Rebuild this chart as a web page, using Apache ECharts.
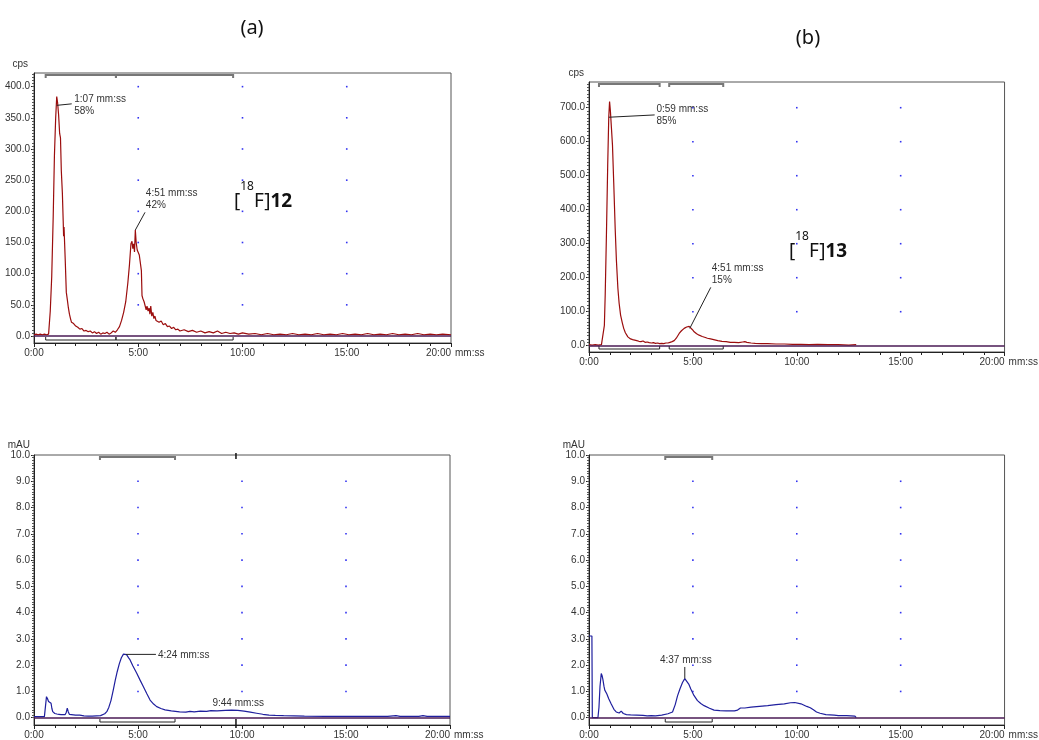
<!DOCTYPE html>
<html>
<head>
<meta charset="utf-8">
<script src="https://cdn.jsdelivr.net/npm/echarts@6/dist/echarts.min.js"></script>
<style>
  html, body { margin: 0; padding: 0; background: #fff; }
  #main { width: 1039px; height: 740px; }
</style>
</head>
<body>
<div id="main"></div>
<script>
// ---- data (time in minutes) ----
// radio trace, [18F]12
const radioA = [[0,2],[0.1,3],[0.2,2],[0.3,3],[0.4,2],[0.5,3],[0.6,2],[0.7,3],
  [0.78,40],[0.85,95],[0.92,190],[0.98,290],[1.04,350],[1.09,384],[1.13,375],[1.18,355],[1.23,325],[1.27,318],
  [1.31,265],[1.36,230],[1.4,185],[1.42,160],[1.44,175],[1.47,172],[1.5,120],[1.55,70],[1.6,58],[1.65,45],
  [1.7,35],[1.75,28],[1.8,22],[1.85,24],[1.9,20],[1.95,21],[2.0,16],[2.1,14],[2.2,11],[2.3,12],[2.4,8],[2.5,9],
  [2.6,7],[2.7,8],[2.8,5],[2.9,7],[3.0,4],[3.1,6],[3.2,3],[3.3,5],[3.4,4],[3.5,6],[3.6,3],[3.7,5],[3.8,8],[3.9,6],
  [4.0,10],[4.1,15],[4.2,25],[4.3,38],[4.4,55],[4.5,85],[4.58,115],[4.65,148],[4.7,152],[4.74,140],[4.78,148],
  [4.82,135],[4.86,170],[4.9,150],[4.95,138],[5.0,140],[5.05,130],[5.1,128],[5.15,105],[5.18,65],[5.22,60],
  [5.28,55],[5.33,52],[5.38,42],[5.42,48],[5.47,40],[5.52,45],[5.56,35],[5.6,48],[5.65,32],[5.7,38],[5.75,28],
  [5.8,32],[5.85,25],[5.9,28],[6.0,22],[6.1,24],[6.2,18],[6.3,20],[6.4,15],[6.5,16],[6.6,12],[6.7,14],[6.8,10],
  [6.9,11],[7.0,8],[7.2,10],[7.4,7],[7.6,9],[7.8,6],[8.0,8],[8.2,5],[8.4,7],[8.6,5],[8.8,8],[9.0,4],[9.2,6],
  [9.4,4],[9.6,5],[9.8,3],[10.0,5],[10.3,3],[10.6,4],[10.9,2],[11.2,4],[11.5,2],[11.8,3],[12.1,2],[12.4,4],
  [12.7,2],[13.0,3],[13.3,2],[13.6,4],[13.9,2],[14.2,3],[14.5,2],[14.8,4],[15.1,2],[15.4,3],[15.7,2],[16.0,4],
  [16.3,2],[16.6,3],[16.9,2],[17.2,4],[17.5,2],[17.8,3],[18.1,2],[18.4,4],[18.7,2],[19.0,3],[19.3,2],[19.6,3],[20,2]]

// radio trace, [18F]13
const radioB = [[0,3],[0.15,2],[0.3,3],[0.45,2],[0.6,3],[0.68,5],[0.74,60],[0.78,150],[0.84,330],[0.9,530],
  [0.95,670],[0.99,718],[1.03,690],[1.08,640],[1.13,590],[1.19,480],[1.26,345],[1.32,250],[1.39,169],[1.45,125],
  [1.52,90],[1.6,68],[1.67,51],[1.75,38],[1.87,26],[1.95,30],[2.0,20],[2.1,18],[2.19,17],[2.3,15],[2.4,13],
  [2.5,12],[2.6,14],[2.7,10],[2.8,11],[2.9,9],[3.0,8],[3.1,9],[3.2,7],[3.3,8],[3.4,6],[3.5,7],[3.6,6],[3.7,8],
  [3.8,8],[3.9,10],[4.0,12],[4.1,15],[4.2,22],[4.34,36],[4.45,44],[4.58,51],[4.7,55],[4.82,57],[4.9,52],
  [4.98,47],[5.06,41],[5.18,35],[5.3,31],[5.45,27],[5.6,24],[5.7,22],[5.85,20],[6.0,18],[6.2,15],[6.4,13],
  [6.6,12],[6.8,10],[7.0,10],[7.2,9],[7.4,11],[7.5,12],[7.6,10],[7.8,8],[8.0,7],[8.3,6],[8.6,6],[9.0,5],
  [9.4,5],[9.8,4],[10.2,4],[10.6,3],[11.0,4],[11.5,3],[12.0,3],[12.5,2],[12.86,3]]

// UV trace under (a)
const uvA = [[0,0.04],[0.5,0.04],[0.55,0.05],[0.6,0.8],[0.65,0.72],[0.7,0.62],[0.75,0.6],[0.82,0.55],[0.86,0.35],
  [0.9,0.23],[1.0,0.16],[1.1,0.14],[1.2,0.13],[1.3,0.12],[1.4,0.12],[1.5,0.12],[1.55,0.2],[1.6,0.36],[1.65,0.22],
  [1.7,0.13],[1.8,0.12],[2.0,0.1],[2.2,0.1],[2.4,0.07],[2.6,0.06],[2.8,0.06],[3.0,0.07],[3.2,0.08],[3.4,0.15],
  [3.5,0.23],[3.6,0.4],[3.7,0.65],[3.81,1.05],[3.9,1.4],[4.0,1.75],[4.1,2.05],[4.2,2.28],[4.3,2.42],[4.38,2.45],
  [4.45,2.4],[4.55,2.28],[4.62,2.2],[4.75,1.98],[4.94,1.69],[5.1,1.43],[5.26,1.18],[5.42,0.92],[5.58,0.67],
  [5.75,0.52],[5.9,0.42],[6.1,0.35],[6.3,0.3],[6.6,0.26],[7.0,0.22],[7.3,0.21],[7.5,0.24],[7.7,0.22],[8.0,0.25],
  [8.3,0.24],[8.5,0.27],[8.8,0.26],[9.2,0.28],[9.5,0.29],[9.8,0.28],[10.1,0.25],[10.4,0.21],[10.7,0.17],
  [11.0,0.13],[11.3,0.1],[11.6,0.09],[12.0,0.08],[12.5,0.07],[13,0.06],[14,0.05],[15,0.05],[16,0.05],[17,0.05],
  [17.4,0.08],[17.6,0.05],[18.5,0.05],[18.7,0.08],[18.9,0.05],[20,0.05]]

// UV trace under (b)
const uvB = [[0,3.11],[0.14,3.11],[0.16,0.0],[0.43,0.0],[0.48,0.4],[0.53,1.2],[0.59,1.68],[0.63,1.6],[0.67,1.45],
  [0.72,1.2],[0.76,1.05],[0.8,1.04],[0.86,0.9],[0.95,0.72],[1.07,0.52],[1.2,0.32],[1.31,0.22],[1.45,0.18],
  [1.55,0.25],[1.65,0.16],[1.8,0.12],[2.0,0.11],[2.3,0.1],[2.6,0.09],[2.8,0.07],[3.0,0.08],[3.2,0.07],[3.5,0.1],
  [3.8,0.15],[4.02,0.22],[4.15,0.5],[4.26,0.83],[4.38,1.1],[4.5,1.34],[4.61,1.49],[4.7,1.45],[4.8,1.28],
  [4.9,1.09],[5.05,0.85],[5.22,0.65],[5.38,0.54],[5.54,0.46],[5.8,0.36],[6.02,0.29],[6.3,0.27],[6.6,0.26],
  [7.0,0.26],[7.15,0.29],[7.29,0.37],[7.5,0.37],[7.8,0.4],[8.2,0.43],[8.6,0.46],[9.0,0.5],[9.4,0.53],[9.7,0.57],
  [9.9,0.58],[10.2,0.53],[10.48,0.43],[10.65,0.38],[10.8,0.3],[10.95,0.22],[11.12,0.17],[11.4,0.12],[11.8,0.1],
  [12.0,0.08],[12.4,0.08],[12.8,0.06],[12.86,0.0]]

// tick labels
const timeTicks = [0, 5, 10, 15, 20]
const dotTimes = [5, 10, 15]
const cpsTicksA = [0, 50, 100, 150, 200, 250, 300, 350, 400]
const cpsTicksB = [0, 100, 200, 300, 400, 500, 600, 700]
const mauTicks = [0, 1, 2, 3, 4, 5, 6, 7, 8, 9, 10]

// integration regions [start, end] and single peak marks
const regionsA = [[0.56, 3.93], [3.93, 9.55]]
const regionsB = [[0.48, 3.4], [3.86, 6.46]]
const regionsUvA = [[3.17, 6.78]]
const regionsUvB = [[3.67, 5.93]]
const marksUvA = [9.71]

// peak annotations [time, value, text]
const notesA = [[1.09, 370, '1:07 mm:ss\n58%'], [4.86, 170, '4:51 mm:ss\n42%']]
const notesB = [[0.96, 672, '0:59 mm:ss\n85%'], [4.85, 51, '4:51 mm:ss\n15%']]
const notesUvA = [[4.42, 2.41, '4:24 mm:ss'], [9.73, 0.28, '9:44 mm:ss']]
const notesUvB = [[4.61, 1.49, '4:37 mm:ss']]

const FONT = 'Liberation Sans'
const INK = '#333'

let myChart = echarts.init(document.getElementById('main'))

// panel layout
const panels = [
  { grid: { left: 34, top: 73, width: 417, height: 270 }, min: -11.2, max: 421.9, ticks: cpsTicksA, minor: 5,
    unit: 'cps', unitPad: 6, data: radioA, color: '#9b0d0d', regions: regionsA, marks: [] },
  { grid: { left: 589, top: 82, width: 418, height: 270 }, min: -18.5, max: 775.6, ticks: cpsTicksB, minor: 10,
    unit: 'cps', unitPad: 5, data: radioB, color: '#9b0d0d', regions: regionsB, marks: [] },
  { grid: { left: 34, top: 455, width: 416, height: 270 }, min: -0.278, max: 10, ticks: mauTicks, minor: 0.1,
    unit: 'mAU', unitPad: 4, data: uvA, color: '#1f1f9e', regions: regionsUvA, marks: marksUvA },
  { grid: { left: 589, top: 455, width: 418, height: 271 }, min: -0.277, max: 10, ticks: mauTicks, minor: 0.1,
    unit: 'mAU', unitPad: 4, data: uvB, color: '#1f1f9e', regions: regionsUvB, marks: [] }
]

function minorValues(p) {
  let out = []
  let n = Math.floor(p.max / p.minor)
  for (let k = 0; k <= n; k++) out.push(+(k * p.minor).toFixed(3))
  return out
}

let grids = [], xAxes = [], yAxes = [], series = [], traceIndex = []

panels.forEach((p, i) => {
  grids.push(Object.assign({ show: true, borderColor: '#555', borderWidth: 1, backgroundColor: 'transparent' }, p.grid))

  xAxes.push({
    type: 'value', gridIndex: i, min: 0, max: 20, interval: 5,
    name: 'mm:ss', nameLocation: 'end', nameGap: 4,
    nameTextStyle: { fontFamily: FONT, fontSize: 10, color: INK, align: 'left', verticalAlign: 'top', padding: [5, 0, 0, 0] },
    axisLine: { onZero: false, lineStyle: { color: '#222', width: 1 } },
    axisTick: { length: 4, lineStyle: { color: '#222' } },
    minorTick: { show: true, splitNumber: 5, length: 3, lineStyle: { color: '#222' } },
    axisLabel: { formatter: v => v + ':00', fontFamily: FONT, fontSize: 10, color: INK, margin: 5, alignMaxLabel: 'right' },
    splitLine: { show: false }, minorSplitLine: { show: false }
  })

  // main value axis
  yAxes.push({
    type: 'value', gridIndex: i, min: p.min, max: p.max, position: 'left',
    name: p.unit, nameLocation: 'end', nameGap: 4,
    nameTextStyle: { fontFamily: FONT, fontSize: 10, color: INK, align: 'right', padding: [0, p.unitPad, 0, 0] },
    axisLine: { show: true, onZero: false, lineStyle: { color: '#222', width: 1 } },
    axisTick: { show: true, customValues: p.ticks, length: 3, lineStyle: { color: '#222' } },
    axisLabel: { customValues: p.ticks, formatter: v => v.toFixed(1), fontFamily: FONT, fontSize: 10, color: INK, margin: 4 },
    splitLine: { show: false }
  })
  // dense small ticks along the value axis
  yAxes.push({
    type: 'value', gridIndex: i, min: p.min, max: p.max, position: 'left',
    axisLine: { show: false },
    axisTick: { show: true, customValues: minorValues(p), length: 2, lineStyle: { color: '#555' } },
    axisLabel: { show: false },
    splitLine: { show: false }
  })

  // grid dots
  let dots = []
  dotTimes.forEach(t => p.ticks.forEach(v => { if (v > 0 && v < p.max - 1e-6) dots.push([t, v]) }))
  series.push({
    type: 'scatter', xAxisIndex: i, yAxisIndex: 2 * i, data: dots, symbol: 'rect', symbolSize: 1.6,
    itemStyle: { color: '#0000ee' }, silent: true, z: 1
  })

  // trace + baseline
  traceIndex.push(series.length)
  series.push({
    type: 'line', xAxisIndex: i, yAxisIndex: 2 * i, data: p.data, showSymbol: false, symbol: 'none',
    lineStyle: { color: p.color, width: 1.2 }, silent: true, z: 3,
    markLine: {
      silent: true, symbol: 'none', animation: false, label: { show: false },
      lineStyle: { color: '#4a1a55', width: 1.6, type: 'solid' },
      data: [{ yAxis: 0 }]
    }
  })

  // integration brackets at the top and bottom of the frame
  series.push({
    type: 'custom', xAxisIndex: i, yAxisIndex: 2 * i, silent: true, z: 4,
    dimensions: ['start', 'end'], encode: { x: [0, 1] },
    data: p.regions,
    renderItem: (params, api) => {
      let cs = params.coordSys
      let x1 = api.coord([api.value(0), 0])[0]
      let x2 = api.coord([api.value(1), 0])[0]
      let top = cs.y + 2, bot = cs.y + cs.height - 3
      return {
        type: 'group', children: [
          { type: 'polyline', shape: { points: [[x1, top + 3], [x1, top], [x2, top], [x2, top + 3]] },
            style: { stroke: '#777', lineWidth: 2, fill: null } },
          { type: 'polyline', shape: { points: [[x1, bot - 3], [x1, bot], [x2, bot], [x2, bot - 3]] },
            style: { stroke: '#222', lineWidth: 1, fill: null } }
        ]
      }
    }
  })

  if (p.marks.length) {
    series.push({
      type: 'custom', xAxisIndex: i, yAxisIndex: 2 * i, silent: true, z: 4,
      dimensions: ['t'], encode: { x: 0 },
      data: p.marks.map(t => [t]),
      renderItem: (params, api) => {
        let cs = params.coordSys
        let x = api.coord([api.value(0), 0])[0]
        return {
          type: 'group', children: [
            { type: 'line', shape: { x1: x, y1: cs.y - 2, x2: x, y2: cs.y + 4 }, style: { stroke: '#111', lineWidth: 1.5 } },
            { type: 'line', shape: { x1: x, y1: cs.y + cs.height - 6, x2: x, y2: cs.y + cs.height + 3 }, style: { stroke: '#111', lineWidth: 1.5 } }
          ]
        }
      }
    })
  }
})

let option = {
  animation: false,
  backgroundColor: '#fff',
  grid: grids,
  xAxis: xAxes,
  yAxis: yAxes,
  series: series
}
myChart.setOption(option)

// annotations: leader line offset and text offset (pixels) from the peak point
const noteSets = [
  { notes: notesA, layout: [{ line: [15, -1.5], text: [17.5, -12.5] }, { line: [9.7, -17.7], text: [10.5, -42.5] }] },
  { notes: notesB, layout: [{ line: [45.7, -2.3], text: [47.5, -13.5] }, { line: [21, -41], text: [22, -66] }] },
  { notes: notesUvA, layout: [{ line: [30, 0], text: [32, -5.5] }, { text: [-24, -13.5] }] },
  { notes: notesUvB, layout: [{ line: [0, -11.6], text: [1, -24.5], align: 'center' }] }
]

let graphics = [
  { type: 'text', x: 252, y: 28, style: { text: '(a)', fontFamily: 'Noto Sans', fontSize: 20, fill: '#111', align: 'center', verticalAlign: 'middle' } },
  { type: 'text', x: 808, y: 38, style: { text: '(b)', fontFamily: 'Noto Sans', fontSize: 20, fill: '#111', align: 'center', verticalAlign: 'middle' } }
]

const chemRich = {
  br: { fontFamily: 'Noto Sans', fontSize: 19, lineHeight: 30, verticalAlign: 'bottom', fill: '#111' },
  sup: { fontFamily: 'Noto Sans', fontSize: 12, lineHeight: 12, verticalAlign: 'top', fill: '#111' },
  b: { fontFamily: 'Noto Sans', fontSize: 19, fontWeight: 'bold', lineHeight: 30, verticalAlign: 'bottom', fill: '#111' }
}
graphics.push({ type: 'text', x: 234, y: 196, style: { text: '{br|[}{sup|18}{br|F]}{b|12}', rich: chemRich, verticalAlign: 'middle' } })
graphics.push({ type: 'text', x: 789, y: 246, style: { text: '{br|[}{sup|18}{br|F]}{b|13}', rich: chemRich, verticalAlign: 'middle' } })

noteSets.forEach((set, i) => {
  set.notes.forEach((n, k) => {
    let pt = myChart.convertToPixel({ seriesIndex: traceIndex[i] }, [n[0], n[1]])
    let lay = set.layout[k]
    if (lay.line) {
      graphics.push({ type: 'line', z: 10, shape: { x1: pt[0], y1: pt[1], x2: pt[0] + lay.line[0], y2: pt[1] + lay.line[1] },
        style: { stroke: '#222', lineWidth: 1 } })
    }
    graphics.push({ type: 'text', z: 10, x: pt[0] + lay.text[0], y: pt[1] + lay.text[1],
      style: { text: n[2], fontFamily: FONT, fontSize: 10, lineHeight: 12, fill: INK, align: lay.align || 'left', verticalAlign: 'top' } })
  })
})

myChart.setOption({ graphic: graphics })
</script>
</body>
</html>
